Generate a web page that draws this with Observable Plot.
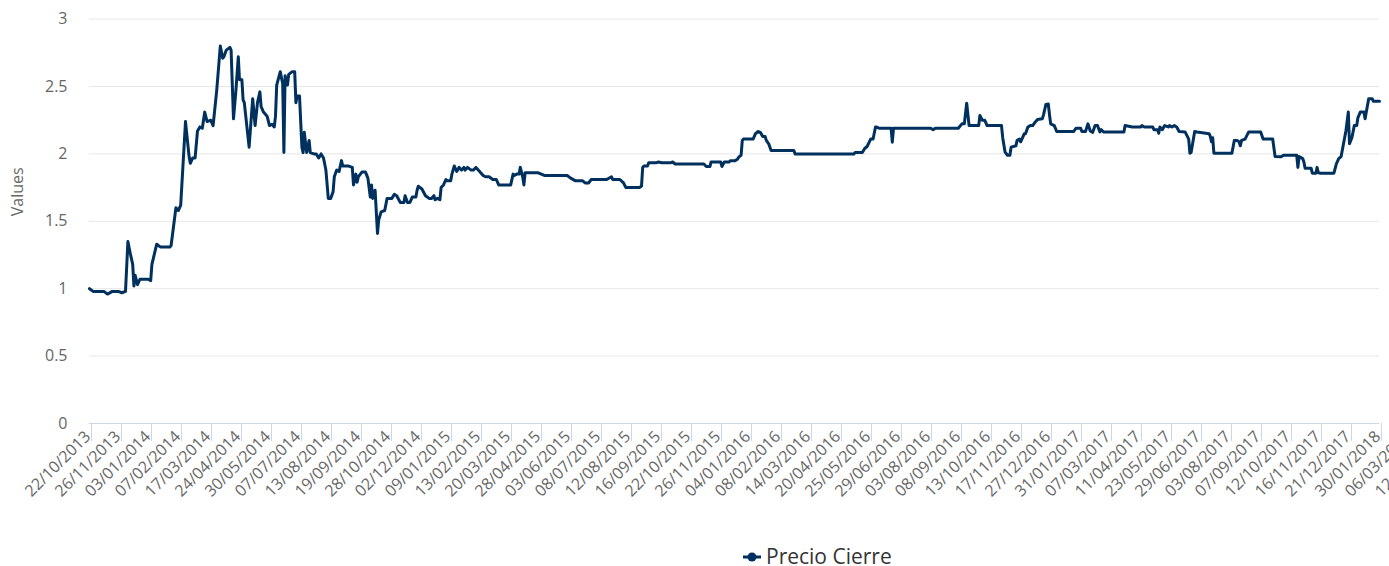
<!DOCTYPE html>
<html><head><meta charset="utf-8">
<script src="https://cdn.jsdelivr.net/npm/d3@7"></script>
<script src="https://cdn.jsdelivr.net/npm/@observablehq/plot@0.6"></script>
<style>
html,body{margin:0;padding:0;background:#fff;overflow:hidden;}
#chart{position:relative;width:1389px;height:566px;font-family:"Open Sans",sans-serif;}
#legend{position:absolute;left:743px;top:546px;line-height:1;display:flex;align-items:center;font-size:21px;color:#333;white-space:nowrap;}
#legend svg{margin-right:5px;}
</style></head><body><div id="chart"></div>
<script>
// x-axis category labels (one every 25 trading days)
const tickLabels = ["22/10/2013","26/11/2013","03/01/2014","07/02/2014","17/03/2014","24/04/2014","30/05/2014","07/07/2014","13/08/2014","19/09/2014","28/10/2014","02/12/2014","09/01/2015","13/02/2015","20/03/2015","28/04/2015","03/06/2015","08/07/2015","12/08/2015","16/09/2015","22/10/2015","26/11/2015","04/01/2016","08/02/2016","14/03/2016","20/04/2016","25/05/2016","29/06/2016","03/08/2016","08/09/2016","13/10/2016","17/11/2016","27/12/2016","31/01/2017","07/03/2017","11/04/2017","23/05/2017","29/06/2017","03/08/2017","07/09/2017","12/10/2017","16/11/2017","21/12/2017","30/01/2018","06/03/2018","12/04/2018"];
const labelStep = 25;
const lastDay = 1075;
const yTicks = [0,0.5,1,1.5,2,2.5,3];
const seriesName = "Precio Cierre";

// trading-day index of each read-off point
const dayIndex = [0,3,12,15,19,24,27,30,32,34,36,37,38,40,42,49,51,52,56,59,67,68,70,72,74,76,80,83,84,86,88,90,92,94,96,98,101,103,106,109,111,112,114,117,118,120,122,124,125,127,128,129,133,136,138,
140,142,143,145,148,150,152,154,155,156,159,161,162,163,165,166,169,171,172,173,175,177,178,179,181,183,184,187,189,191,193,195,197,199,201,203,204,206,208,210,211,216,219,220,222,223,224,227,230,232,234,235,236,238,240,241,243,246,248,252,254,256,259,262,263,265,267,269,272,
273,274,277,280,283,285,287,288,290,292,293,295,297,298,301,302,304,306,308,310,312,313,315,318,320,322,324,328,330,333,336,339,341,351,353,354,356,358,359,361,362,363,374,379,398,401,405,
411,413,416,418,431,435,436,442,445,447,458,460,461,462,465,466,472,474,477,484,486,488,512,514,517,518,526,527,529,533,534,538,
540,541,543,544,545,553,555,557,559,561,563,564,566,568,587,588,637,638,644,646,648,651,653,655,656,658,668,669,670,
701,703,705,724,727,729,731,733,741,742,744,746,748,760,761,763,765,767,768,772,773,775,776,779,780,782,784,786,788,790,794,795,797,799,800,801,804,806,
820,822,826,827,830,832,834,836,838,840,842,843,845,862,863,869,876,877,879,886,887,890,891,892,894,896,899,900,902,904,906,908,913,916,917,918,921,923,933,934,935,936,937,
952,954,956,958,959,960,963,966,976,978,986,988,993,995,1006,1007,1008,1011,1012,1013,1018,1019,1022,1023,1024,1026,1037,1039,1041,1043,1047,1049,1050,1052,1054,1056,1057,1059,1062,1063,1064,1066,1069,1070,1075];

// closing price at each point
const closePrice = [1.00,0.98,0.98,0.96,0.98,0.98,0.97,0.98,1.35,1.26,1.18,1.02,1.10,1.03,1.07,1.07,1.06,1.18,1.33,1.31,1.31,1.32,1.46,1.60,1.58,1.62,2.24,1.98,1.93,1.97,1.97,2.17,2.20,2.19,2.31,2.24,2.25,2.21,2.47,2.80,2.71,2.72,2.77,2.79,2.77,2.26,2.47,2.72,2.55,2.55,2.40,2.38,2.05,2.41,2.21,
2.38,2.46,2.35,2.31,2.28,2.21,2.22,2.20,2.28,2.51,2.61,2.52,2.01,2.58,2.51,2.59,2.61,2.61,2.38,2.43,2.43,2.05,2.01,2.16,2.01,2.10,2.01,2.00,2.00,1.97,2.00,1.97,1.88,1.67,1.67,1.72,1.83,1.88,1.87,1.95,1.91,1.91,1.90,1.77,1.85,1.79,1.83,1.865,1.865,1.82,1.68,1.77,1.67,1.73,1.41,1.51,1.57,1.58,1.67,1.67,1.70,1.69,1.64,1.64,1.69,1.64,1.64,1.68,1.68,
1.73,1.76,1.74,1.69,1.67,1.67,1.69,1.66,1.67,1.66,1.75,1.77,1.81,1.80,1.80,1.85,1.91,1.87,1.90,1.88,1.90,1.88,1.90,1.88,1.88,1.90,1.88,1.84,1.83,1.83,1.81,1.81,1.77,1.77,1.85,1.84,1.85,1.85,1.90,1.83,1.77,1.86,1.86,1.84,1.84,1.82,1.80,
1.80,1.785,1.785,1.81,1.81,1.83,1.81,1.81,1.785,1.75,1.75,1.76,1.90,1.91,1.91,1.934,1.934,1.94,1.934,1.934,1.94,1.925,1.925,1.906,1.906,1.94,1.94,1.907,1.94,1.94,1.95,1.95,
1.96,1.976,1.99,2.10,2.11,2.11,2.15,2.166,2.16,2.13,2.13,2.10,2.075,2.025,2.025,2.00,2.00,2.01,2.01,2.04,2.055,2.11,2.11,2.20,2.20,2.19,2.19,2.087,2.19,
2.19,2.18,2.19,2.19,2.223,2.223,2.376,2.21,2.21,2.285,2.25,2.25,2.21,2.21,2.12,2.013,1.99,1.99,2.05,2.06,2.10,2.11,2.09,2.15,2.15,2.20,2.21,2.21,2.235,2.255,2.26,2.29,2.367,2.37,2.29,2.223,2.21,2.166,
2.166,2.19,2.19,2.166,2.166,2.223,2.17,2.16,2.21,2.21,2.163,2.18,2.163,2.163,2.21,2.20,2.20,2.21,2.20,2.20,2.18,2.18,2.153,2.20,2.18,2.21,2.20,2.21,2.20,2.21,2.20,2.166,2.163,2.11,2.005,2.01,2.166,2.163,2.15,2.13,2.09,2.12,2.005,
2.005,2.10,2.10,2.09,2.06,2.10,2.11,2.163,2.163,2.11,2.11,1.98,1.978,1.99,1.99,1.90,1.98,1.965,1.94,1.894,1.894,1.857,1.857,1.90,1.86,1.857,1.857,1.925,1.965,1.98,2.17,2.31,2.075,2.12,2.21,2.21,2.268,2.31,2.31,2.26,2.31,2.409,2.409,2.39,2.39];

const data = dayIndex.map((d, i) => ({day: d, value: closePrice[i]}));
const tickPositions = tickLabels.map((_, i) => i * labelStep);
const font = '"Open Sans", sans-serif';

const plot = Plot.plot({
  width: 1389, height: 540,
  marginLeft: 89, marginRight: 10, marginTop: 18.6, marginBottom: 117,
  style: {fontFamily: font, background: "#fff"},
  x: {domain: [0, lastDay], label: null},
  y: {domain: [0, 3], label: null},
  marks: [
    Plot.gridY(yTicks, {stroke: "#e6e6e6", strokeOpacity: 1}),
    Plot.axisX(tickPositions, {
      tickSize: 18, tickPadding: -4, dx: 2, stroke: "#ccd6eb", strokeOpacity: 1,
      tickRotate: -45, lineAnchor: "bottom", fill: "#666", fontSize: 16,
      tickFormat: d => tickLabels[Math.round(d / labelStep)]
    }),
    Plot.ruleY([0], {stroke: "#ccd6eb"}),
    Plot.line(data, {x: "day", y: "value", stroke: "#00305e", strokeWidth: 3, strokeLinejoin: "round", strokeLinecap: "round"}),
    Plot.axisY(yTicks, {tickSize: 0, tickPadding: 22, fill: "#666", fontSize: 16, tickFormat: d => String(d)}),
    Plot.text(["Values"], {frameAnchor: "left", dx: -72, dy: -5, rotate: -90, fontSize: 16, fill: "#666"})
  ]
});
const chart = document.getElementById("chart");
chart.appendChild(plot);
const legend = document.createElement("div");
legend.id = "legend";
legend.innerHTML = `<svg width="18" height="12"><line x1="0" y1="6" x2="18" y2="6" stroke="#00305e" stroke-width="3"/><circle cx="9" cy="6" r="4.5" fill="#00305e"/></svg><span>${seriesName}</span>`;
chart.appendChild(legend);
</script>
</body></html>
